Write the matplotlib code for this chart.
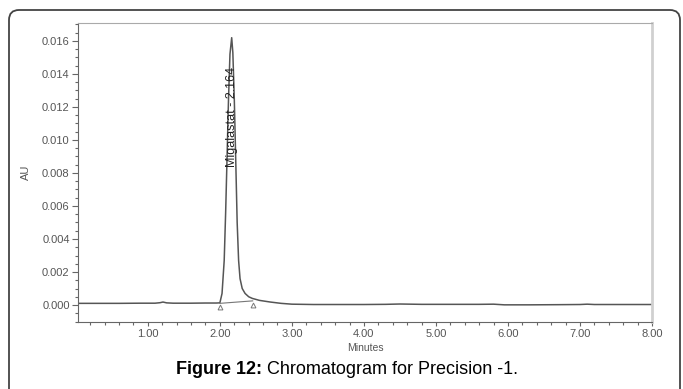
import matplotlib
matplotlib.use("Agg")
import matplotlib.pyplot as plt
from matplotlib.patches import FancyBboxPatch
from matplotlib.transforms import IdentityTransform
from matplotlib.ticker import MultipleLocator, FormatStrFormatter

plt.rcParams['font.family'] = ['Liberation Sans', 'DejaVu Sans']

# retention time (min) and absorbance (AU)
minutes = [0.03, 0.3, 0.6, 0.9, 1.1, 1.17, 1.21, 1.26, 1.35, 1.6, 1.8, 1.95,
           2.00, 2.03, 2.06, 2.08, 2.10, 2.12, 2.14, 2.164, 2.18, 2.20, 2.22,
           2.24, 2.26, 2.28, 2.31, 2.35, 2.40, 2.45, 2.55, 2.70, 2.85, 3.00,
           3.3, 3.6, 4.0, 4.3, 4.5, 4.8, 5.2, 5.6, 5.8, 5.95, 6.3, 6.7, 7.0,
           7.1, 7.2, 7.6, 8.0]
au = [0.00010, 0.00010, 0.00010, 0.00011, 0.00011, 0.00014, 0.00018, 0.00013,
      0.00011, 0.00011, 0.00012, 0.00012,
      0.00013, 0.00070, 0.00270, 0.00560, 0.00900, 0.01250, 0.01520, 0.01620,
      0.01530, 0.01250, 0.00880, 0.00500, 0.00270, 0.00160, 0.00100, 0.00070,
      0.00050, 0.00040, 0.00028, 0.00018, 0.00010, 0.00005,
      0.00003, 0.00003, 0.00003, 0.00004, 0.00006, 0.00004, 0.00004, 0.00004,
      0.00005, 0.00001, 0.00001, 0.00002, 0.00003, 0.00005, 0.00003, 0.00003,
      0.00003]

# integration start / end marks
int_t = [2.00, 2.455]
int_au = [0.00010, 0.00025]
peak_name = "Migalastat - 2.164"
peak_t = 2.164

fig = plt.figure(figsize=(6.83, 3.89), dpi=100)
ax = fig.add_axes([78 / 683, 1 - 322 / 389, 574 / 683, 299 / 389])

ax.plot(minutes, au, color='#555555', lw=1.1)
ax.plot(int_t, int_au, color='#777777', lw=0.8)
ax.plot(int_t, [v - 0.00022 for v in int_au], ls='none', marker='^', ms=3.5,
        mfc='none', mec='#777777', mew=0.7)
ax.text(peak_t, 0.0114, peak_name, rotation=90, ha='center', va='center',
        fontsize=9, color='#222222')

ax.set_xlim(0.03, 8.0)
ax.set_ylim(-0.00103, 0.01709)
ax.xaxis.set_major_locator(MultipleLocator(1.0))
ax.xaxis.set_minor_locator(MultipleLocator(0.2))
ax.xaxis.set_major_formatter(FormatStrFormatter('%.2f'))
ax.yaxis.set_major_locator(MultipleLocator(0.002))
ax.yaxis.set_minor_locator(MultipleLocator(0.0005))
ax.yaxis.set_major_formatter(FormatStrFormatter('%.3f'))
ax.tick_params(which='both', labelsize=8, labelcolor='#555555', color='#666666', width=0.8)
ax.tick_params(which='major', length=4, pad=2)
ax.tick_params(which='minor', length=2)
ax.tick_params(axis='x', which='major', length=3, pad=2)
ax.set_xlabel('Minutes', fontsize=7.5, color='#555555', labelpad=3)
ax.set_ylabel('AU', fontsize=8, color='#555555', labelpad=8)

ax.spines['left'].set_color('#666666')
ax.spines['bottom'].set_color('#666666')
ax.spines['top'].set_color('#aaaaaa')
ax.spines['right'].set_color('#d0d0d0')
ax.spines['right'].set_linewidth(2)

# rounded frame around the figure (pixel coordinates, bottom edge off-canvas)
box = FancyBboxPatch((9, -30), 671, 389 - 10 + 30,
                     boxstyle='round,pad=0,rounding_size=10',
                     transform=IdentityTransform(), fill=False,
                     ec='#444444', lw=1.3, clip_on=False)
fig.patches.append(box)

# caption with bold lead
cy = 1 - 370 / 389
cx = 347 / 683
t1 = fig.text(0, cy, 'Figure 12:', fontsize=13, fontweight='bold', va='center', ha='left')
t2 = fig.text(0, cy, ' Chromatogram for Precision -1.', fontsize=13, va='center', ha='left')
fig.canvas.draw()
r = fig.canvas.get_renderer()
w1 = t1.get_window_extent(r).width / fig.bbox.width
w2 = t2.get_window_extent(r).width / fig.bbox.width
x0 = cx - (w1 + w2) / 2
t1.set_x(x0)
t2.set_x(x0 + w1)

fig.savefig('out.png', dpi=100)
